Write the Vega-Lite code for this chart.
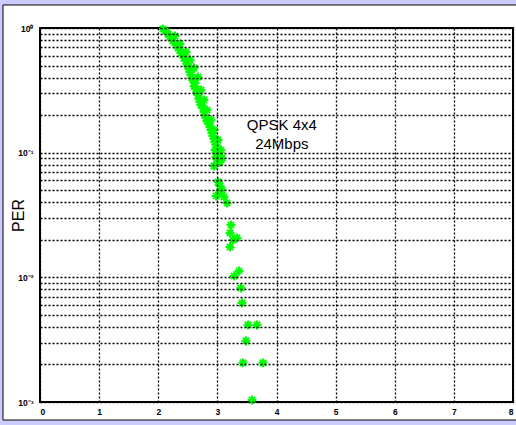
{
  "$schema": "https://vega.github.io/schema/vega-lite/v6.json",
  "width": 473,
  "height": 374,
  "autosize": {"type": "none"},
  "padding": {"left": 40, "top": 28, "right": 3, "bottom": 23},
  "background": "#ccccff",
  "config": {
    "view": {"stroke": null, "fill": "white"},
    "axis": {
      "grid": true,
      "gridColor": "black",
      "gridOpacity": 1,
      "gridWidth": 1.3,
      "gridDash": [2, 2],
      "ticks": false,
      "domain": false,
      "labelFont": "Liberation Sans",
      "labelFontSize": 8.5,
      "labelFontWeight": "bold",
      "labelColor": "black",
      "titleFont": "Liberation Sans",
      "titleFontWeight": "normal",
      "titleColor": "black"
    }
  },
  "layer": [
    {
      "data": {"values": [{}]},
      "mark": {"type": "rect", "fill": "white", "stroke": "black", "strokeWidth": 1, "clip": false},
      "encoding": {
        "x": {"datum": -0.626, "type": "quantitative", "scale": {"domain": [0, 8], "nice": false, "zero": false}},
        "x2": {"datum": 8.1},
        "y": {"datum": 1.53, "type": "quantitative", "scale": {"type": "log", "domain": [0.001, 1], "nice": false}},
        "y2": {"datum": 0.000717}
      }
    },
    {
      "data": {"values": [{}]},
      "mark": {"type": "rect", "fill": null, "fillOpacity": 0, "stroke": "black", "strokeWidth": 2, "clip": false},
      "encoding": {
        "x": {"datum": 0, "type": "quantitative", "scale": {"domain": [0, 8], "nice": false, "zero": false}},
        "x2": {"datum": 8},
        "y": {"datum": 1, "type": "quantitative", "scale": {"type": "log", "domain": [0.001, 1], "nice": false}},
        "y2": {"datum": 0.001}
      }
    },
    {
      "data": {
        "values": [
          {"snr": 2.080, "per": 0.982}, {"snr": 2.131, "per": 0.946}, {"snr": 2.165, "per": 0.895},
          {"snr": 2.199, "per": 0.847}, {"snr": 2.233, "per": 0.831}, {"snr": 2.249, "per": 0.787},
          {"snr": 2.283, "per": 0.758}, {"snr": 2.317, "per": 0.731}, {"snr": 2.334, "per": 0.691},
          {"snr": 2.368, "per": 0.666}, {"snr": 2.385, "per": 0.630}, {"snr": 2.419, "per": 0.607},
          {"snr": 2.436, "per": 0.574}, {"snr": 2.469, "per": 0.544}, {"snr": 2.486, "per": 0.514},
          {"snr": 2.503, "per": 0.496}, {"snr": 2.520, "per": 0.469}, {"snr": 2.537, "per": 0.444},
          {"snr": 2.554, "per": 0.420}, {"snr": 2.571, "per": 0.397}, {"snr": 2.588, "per": 0.383},
          {"snr": 2.622, "per": 0.362}, {"snr": 2.605, "per": 0.343}, {"snr": 2.638, "per": 0.324},
          {"snr": 2.655, "per": 0.307}, {"snr": 2.672, "per": 0.290}, {"snr": 2.689, "per": 0.2695},
          {"snr": 2.706, "per": 0.255}, {"snr": 2.723, "per": 0.241}, {"snr": 2.757, "per": 0.228},
          {"snr": 2.774, "per": 0.212}, {"snr": 2.791, "per": 0.2005}, {"snr": 2.808, "per": 0.1897},
          {"snr": 2.825, "per": 0.1795}, {"snr": 2.858, "per": 0.170}, {"snr": 2.875, "per": 0.1607},
          {"snr": 2.892, "per": 0.152}, {"snr": 2.909, "per": 0.1438}, {"snr": 2.926, "per": 0.136},
          {"snr": 2.943, "per": 0.1288}, {"snr": 2.960, "per": 0.1218}, {"snr": 2.977, "per": 0.1152},
          {"snr": 2.994, "per": 0.109}, {"snr": 2.960, "per": 0.105}, {"snr": 3.011, "per": 0.0976},
          {"snr": 2.977, "per": 0.0923}, {"snr": 3.027, "per": 0.0873}, {"snr": 3.044, "per": 0.0842},
          {"snr": 2.994, "per": 0.0826}, {"snr": 2.943, "per": 0.0781}, {"snr": 3.011, "per": 0.0582},
          {"snr": 3.044, "per": 0.0540}, {"snr": 3.078, "per": 0.0502}, {"snr": 3.027, "per": 0.0475},
          {"snr": 2.977, "per": 0.0449}, {"snr": 3.112, "per": 0.0441}, {"snr": 3.163, "per": 0.0395},
          {"snr": 3.230, "per": 0.0263}, {"snr": 3.214, "per": 0.0227}, {"snr": 3.332, "per": 0.0207},
          {"snr": 3.264, "per": 0.0199}, {"snr": 3.214, "per": 0.0175}, {"snr": 3.366, "per": 0.01124},
          {"snr": 3.281, "per": 0.01025}, {"snr": 3.400, "per": 0.00821}, {"snr": 3.416, "per": 0.00622},
          {"snr": 3.518, "per": 0.00415}, {"snr": 3.670, "per": 0.00415}, {"snr": 3.484, "per": 0.00309},
          {"snr": 3.433, "per": 0.00206}, {"snr": 3.772, "per": 0.00206}, {"snr": 3.586, "per": 0.001038},
          {"snr": 2.283, "per": 0.863}, {"snr": 2.368, "per": 0.744}, {"snr": 2.469, "per": 0.642},
          {"snr": 2.537, "per": 0.554}, {"snr": 2.605, "per": 0.478}, {"snr": 2.672, "per": 0.4045},
          {"snr": 2.723, "per": 0.318}, {"snr": 2.774, "per": 0.2646}, {"snr": 2.825, "per": 0.22},
          {"snr": 2.892, "per": 0.1828}, {"snr": 2.943, "per": 0.152}, {"snr": 3.011, "per": 0.1263},
          {"snr": 3.061, "per": 0.105}, {"snr": 3.078, "per": 0.0907}
        ]
      },
      "mark": {
        "type": "point",
        "shape": "M-1,0H1M0,-1V1M-0.7,-0.7L0.7,0.7M-0.7,0.7L0.7,-0.7",
        "filled": false,
        "stroke": "#00ff00",
        "strokeWidth": 2,
        "size": 80,
        "opacity": 1,
        "clip": false
      },
      "encoding": {
        "x": {
          "field": "snr",
          "type": "quantitative",
          "scale": {"domain": [0, 8], "nice": false, "zero": false},
          "axis": {"values": [0, 1, 2, 3, 4, 5, 6, 7, 8], "format": "d", "title": null, "labelPadding": 5, "zindex": 2}
        },
        "y": {
          "field": "per",
          "type": "quantitative",
          "scale": {"type": "log", "domain": [0.001, 1], "nice": false},
          "axis": {
            "values": [0.001, 0.002, 0.003, 0.004, 0.005, 0.006, 0.007, 0.008, 0.009,
                       0.01, 0.02, 0.03, 0.04, 0.05, 0.06, 0.07, 0.08, 0.09,
                       0.1, 0.2, 0.3, 0.4, 0.5, 0.6, 0.7, 0.8, 0.9, 1],
            "labelExpr": "datum.value == 1 ? '10⁰' : datum.value == 0.1 ? '10⁻¹' : datum.value == 0.01 ? '10⁻²' : datum.value == 0.001 ? '10⁻³' : ''",
            "labelPadding": 7,
            "title": "PER",
            "titleFontSize": 16,
            "titleX": -14,
            "zindex": 2
          }
        }
      }
    },
    {
      "data": {"values": [{}]},
      "mark": {
        "type": "text",
        "text": "QPSK 4x4\n24Mbps",
        "lineBreak": "\n",
        "lineHeight": 19,
        "font": "Liberation Sans",
        "fontSize": 15,
        "color": "black",
        "align": "center",
        "baseline": "middle",
        "clip": false
      },
      "encoding": {
        "x": {"datum": 4.09, "type": "quantitative", "scale": {"domain": [0, 8], "nice": false, "zero": false}},
        "y": {"datum": 0.1667, "type": "quantitative", "scale": {"type": "log", "domain": [0.001, 1], "nice": false}}
      }
    }
  ]
}
